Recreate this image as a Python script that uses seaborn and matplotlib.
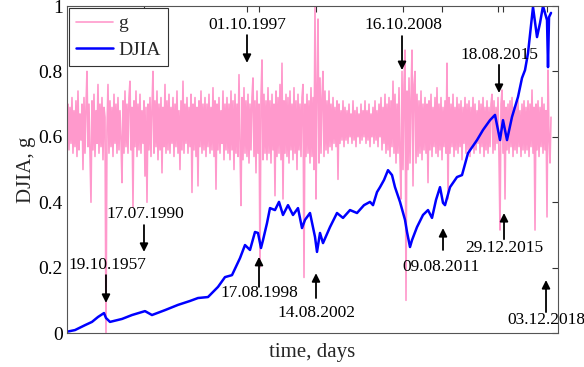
import matplotlib
matplotlib.use("Agg")
import matplotlib.pyplot as plt
import seaborn as sns
import pandas as pd
import numpy as np

# ---------------- data ----------------
djia_day = [0, 80, 180, 250, 310, 370, 390, 430, 550, 650, 780, 850, 980, 1110, 1230,
            1310, 1410, 1510, 1580, 1650, 1730, 1780, 1830, 1880, 1910, 1940, 1960, 2000,
            2030, 2080, 2120, 2160, 2210, 2260, 2310, 2350, 2380, 2430, 2480, 2500, 2530,
            2560, 2630, 2700, 2760, 2830, 2900, 2970, 3030, 3060, 3100, 3130, 3170, 3210,
            3250, 3280, 3330, 3380, 3400, 3430, 3450, 3500, 3560, 3610, 3650, 3690, 3730,
            3760, 3780, 3830, 3900, 3950, 4010, 4100, 4160, 4230, 4280, 4330, 4360, 4400,
            4450, 4510, 4550, 4580, 4610, 4660, 4700, 4730, 4760, 4800, 4810, 4820, 4840]
djia_val = [0.004, 0.009, 0.024, 0.034, 0.049, 0.061, 0.046, 0.034, 0.043, 0.055, 0.067,
            0.055, 0.070, 0.086, 0.098, 0.107, 0.110, 0.141, 0.171, 0.177, 0.229, 0.269,
            0.254, 0.309, 0.306, 0.260, 0.284, 0.336, 0.382, 0.376, 0.401, 0.361, 0.391,
            0.361, 0.382, 0.321, 0.346, 0.367, 0.294, 0.248, 0.306, 0.275, 0.324, 0.367,
            0.352, 0.376, 0.367, 0.391, 0.401, 0.391, 0.431, 0.446, 0.468, 0.498, 0.483,
            0.446, 0.401, 0.346, 0.309, 0.263, 0.284, 0.324, 0.361, 0.376, 0.352, 0.407,
            0.446, 0.398, 0.391, 0.446, 0.477, 0.483, 0.550, 0.590, 0.621, 0.651, 0.667,
            0.590, 0.651, 0.590, 0.661, 0.722, 0.780, 0.804, 0.856, 0.997, 0.905, 0.948,
            1.000, 0.957, 0.813, 0.966, 0.979]

g_step = 10  # days between g samples
g_val = [
    0.63, 0.70, 0.56, 0.69, 0.58, 0.72, 0.55, 0.68, 0.57, 0.71, 0.54, 0.74, 0.56, 0.67, 0.59, 0.70, 0.50, 0.72, 0.55, 0.69,
    0.80, 0.57, 0.70, 0.55, 0.40, 0.71, 0.56, 0.73, 0.54, 0.68, 0.58, 0.76, 0.55, 0.70, 0.57, 0.72, 0.53, 0.69, 0.66, 0.0,
    0.62, 0.76, 0.55, 0.71, 0.57, 0.69, 0.54, 0.73, 0.58, 0.70, 0.55, 0.72, 0.56, 0.68, 0.59, 0.46, 0.71, 0.55, 0.74, 0.57,
    0.70, 0.55, 0.72, 0.77, 0.56, 0.69, 0.385, 0.71, 0.57, 0.74, 0.54, 0.70, 0.56, 0.73, 0.55, 0.68, 0.58, 0.71, 0.48, 0.69,
    0.40, 0.70, 0.56, 0.72, 0.54, 0.69, 0.80, 0.55, 0.71, 0.57, 0.74, 0.53, 0.70, 0.56, 0.72, 0.49, 0.69, 0.57, 0.76, 0.55,
    0.71, 0.56, 0.73, 0.55, 0.69, 0.58, 0.72, 0.54, 0.70, 0.57, 0.74, 0.55, 0.68, 0.50, 0.71, 0.56, 0.77, 0.55, 0.70, 0.58,
    0.72, 0.55, 0.69, 0.57, 0.73, 0.43, 0.70, 0.56, 0.72, 0.54, 0.69, 0.45, 0.71, 0.57, 0.74, 0.55, 0.70, 0.56, 0.72, 0.54,
    0.70, 0.57, 0.73, 0.55, 0.69, 0.56, 0.75, 0.54, 0.71, 0.44, 0.70, 0.56, 0.72, 0.55, 0.68, 0.58, 0.74, 0.53, 0.70, 0.56,
    0.72, 0.55, 0.70, 0.53, 0.74, 0.56, 0.71, 0.50, 0.73, 0.55, 0.70, 0.54, 0.79, 0.57, 0.39, 0.72, 0.53, 0.75, 0.55, 0.71,
    0.54, 0.73, 0.52, 0.70, 0.56, 0.72, 0.78, 0.54, 0.71, 0.49, 0.74, 0.55, 0.70, 0.20, 0.72, 0.835, 0.53, 0.73, 0.55, 0.71,
    0.53, 0.75, 0.55, 0.71, 0.52, 0.73, 0.56, 0.70, 0.42, 0.74, 0.54, 0.72, 0.55, 0.76, 0.53, 0.825, 0.41, 0.71, 0.55, 0.73,
    0.54, 0.72, 0.52, 0.74, 0.56, 0.70, 0.53, 0.75, 0.55, 0.71, 0.50, 0.73, 0.56, 0.70, 0.54, 0.72, 0.76, 0.17, 0.70, 0.54,
    0.73, 0.55, 0.71, 0.52, 0.75, 0.54, 0.72, 0.50, 1.0, 0.41, 0.74, 0.96, 0.52, 0.78, 0.55, 0.72, 0.80, 0.54, 0.74, 0.56,
    0.71, 0.55, 0.74, 0.57, 0.70, 0.56, 0.72, 0.58, 0.69, 0.57, 0.71, 0.47, 0.70, 0.58, 0.68, 0.59, 0.71, 0.57, 0.69, 0.59,
    0.68, 0.58, 0.70, 0.60, 0.67, 0.58, 0.71, 0.59, 0.68, 0.57, 0.69, 0.60, 0.67, 0.58, 0.70, 0.59, 0.68, 0.60, 0.71, 0.58,
    0.68, 0.59, 0.70, 0.57, 0.67, 0.60, 0.69, 0.58, 0.71, 0.59, 0.68, 0.57, 0.70, 0.60, 0.72, 0.56, 0.69, 0.58, 0.73, 0.55,
    0.70, 0.56, 0.72, 0.54, 0.71, 0.57, 0.77, 0.55, 0.73, 0.52, 0.70, 0.55, 0.75, 0.53, 0.41, 0.80, 0.50, 0.76, 0.865, 0.10,
    0.74, 0.50, 0.78, 0.52, 0.72, 0.865, 0.45, 0.76, 0.80, 0.52, 0.73, 0.54, 0.71, 0.55, 0.74, 0.53, 0.70, 0.56, 0.72, 0.55,
    0.70, 0.46, 0.71, 0.56, 0.73, 0.54, 0.69, 0.57, 0.72, 0.55, 0.75, 0.54, 0.70, 0.56, 0.72, 0.53, 0.69, 0.57, 0.71, 0.55,
    0.825, 0.41, 0.72, 0.55, 0.70, 0.57, 0.73, 0.54, 0.69, 0.56, 0.72, 0.55, 0.70, 0.57, 0.71, 0.53, 0.69, 0.58, 0.72, 0.55,
    0.70, 0.56, 0.71, 0.54, 0.69, 0.57, 0.72, 0.55, 0.70, 0.56, 0.68, 0.58, 0.71, 0.55, 0.70, 0.57, 0.72, 0.54, 0.69, 0.56,
    0.71, 0.55, 0.69, 0.57, 0.70, 0.73, 0.55, 0.71, 0.56, 0.69, 0.58, 0.72, 0.54, 0.315, 0.70, 0.743, 0.55, 0.71, 0.41, 0.69,
    0.56, 0.70, 0.55, 0.71, 0.57, 0.72, 0.54, 0.69, 0.56, 0.70, 0.55, 0.71, 0.57, 0.68, 0.54, 0.70, 0.56, 0.71, 0.55, 0.69,
    0.56, 0.71, 0.54, 0.70, 0.57, 0.743, 0.55, 0.69, 0.315, 0.70, 0.56, 0.71, 0.54, 0.69, 0.57, 0.72, 0.55, 0.70, 0.56, 0.68,
    0.355, 0.804, 0.60, 0.52, 0.66,
]

event_labels = ["19.10.1957", "17.07.1990", "01.10.1997", "17.08.1998", "14.08.2002",
                "16.10.2008", "09.08.2011", "18.08.2015", "29.12.2015", "03.12.2018"]
event_day = [390, 770, 1800, 1920, 2490, 3350, 3760, 4320, 4370, 4790]
# layout of annotations: text x (days), text y, arrow tail y, arrow head y
text_x = [400, 780, 1800, 1920, 2490, 3360, 3740, 4320, 4370, 4790]
text_y = [0.208, 0.364, 0.942, 0.122, 0.061, 0.942, 0.202, 0.850, 0.260, 0.040]
arr_tail = [0.177, 0.330, 0.911, 0.141, 0.107, 0.908, 0.254, 0.820, 0.287, 0.064]
arr_head = [0.092, 0.248, 0.826, 0.233, 0.183, 0.804, 0.321, 0.734, 0.367, 0.162]
tick_days = [770, 1800, 1920, 2490, 3360, 3750, 4310, 4360, 4800]

# ---------------- plot ----------------
sns.set_style("white")
plt.rcParams["font.family"] = ["Liberation Serif", "DejaVu Serif"]

fig = plt.figure(figsize=(5.84, 3.67), dpi=100)
ax = fig.add_axes([0.1147, 0.0926, 0.8408, 0.8910])

g_df = pd.DataFrame({"day": np.arange(len(g_val)) * g_step, "val": g_val})
d_df = pd.DataFrame({"day": djia_day, "val": djia_val})

sns.lineplot(data=g_df, x="day", y="val", ax=ax, color="#ff99cc", lw=1.2, label="g")
sns.lineplot(data=d_df, x="day", y="val", ax=ax, color="#0000ff", lw=1.8, label="DJIA")

for lab, ex, tx, ty, t0, t1 in zip(event_labels, event_day, text_x, text_y, arr_tail, arr_head):
    ax.annotate("", xy=(ex, t1), xytext=(ex, t0),
                arrowprops=dict(arrowstyle="-|>", color="black", lw=1.3,
                                mutation_scale=12, shrinkA=0, shrinkB=0))
    ax.text(tx, ty, lab, ha="center", va="center", fontsize=12.5, color="black")

ax.set_xlim(0, 4910)
ax.set_ylim(0, 1)
ax.set_xticks(tick_days)
ax.set_xticklabels([])
ax.set_yticks([0, 0.2, 0.4, 0.6, 0.8, 1])
ax.set_yticklabels(["0", "0.2", "0.4", "0.6", "0.8", "1"])
ax.tick_params(direction="in", length=4, width=0.8, top=True, right=True,
               labelsize=14, colors="#333333", labelcolor="black", pad=3)
for s in ax.spines.values():
    s.set_color("#555555")
    s.set_linewidth(0.8)

ax.set_xlabel("time, days", fontsize=15, labelpad=4)
ax.set_ylabel("DJIA, g", fontsize=15, labelpad=2)

leg = ax.legend(loc="upper left", fontsize=14, frameon=True, fancybox=False,
                edgecolor="#333333", framealpha=1, borderaxespad=0.1,
                handlelength=1.9, handletextpad=0.3, borderpad=0.35, labelspacing=0.45)
leg.get_frame().set_linewidth(0.8)

fig.savefig("out.png", dpi=100)
